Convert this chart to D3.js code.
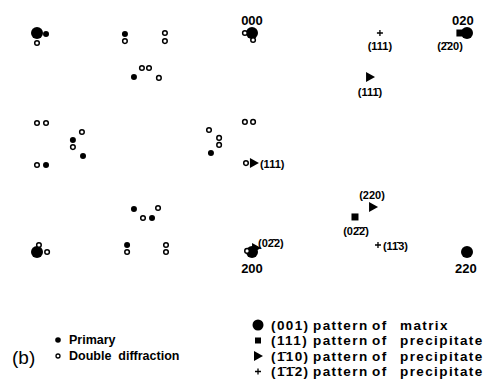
<!DOCTYPE html>
<html>
<head>
<meta charset="utf-8">
<script src="https://cdn.jsdelivr.net/npm/d3@7"></script>
<style>
  body { margin: 0; background: #fff; }
  svg { display: block; }
  text { font-family: "Liberation Sans", Arial, sans-serif; fill: #000; }
</style>
</head>
<body>
<div id="chart"></div>
<script>
// Spot positions in lattice units: u along 000 -> 020, v along 000 -> 200
var matrixSpots = [[-1, 0], [0, 0], [1, 0], [-1, 1], [0, 1], [1, 1]];

var primarySpots = [
    [-0.958, 0.005], [-0.591, 0.005], [-0.549, 0.201], [-0.833, 0.489],
    [-0.786, 0.562], [-0.958, 0.603], [-0.191, 0.548], [-0.549, 0.804],
    [-0.465, 0.845], [-0.581, 0.968]
];

var doubleSpots = [
    [-1, 0.046], [-0.405, 0], [-0.405, 0.037], [-0.591, 0.037],
    [-0.512, 0.160], [-0.479, 0.160], [-0.433, 0.205], [-0.033, 0],
    [0.005, 0.032], [-0.033, 0.406], [0.005, 0.406], [-1, 0.411],
    [-0.958, 0.411], [-0.791, 0.452], [-0.833, 0.521], [-1, 0.603],
    [-0.200, 0.443], [-0.153, 0.479], [-0.153, 0.511], [-0.028, 0.594],
    [-0.437, 0.799], [-0.507, 0.845], [-0.991, 0.968], [-0.953, 1.0],
    [-0.581, 1.0], [-0.400, 0.968], [-0.400, 1.0], [-0.023, 0.995]
];

var squareSpots = [[0.967, 0], [0.479, 0.840]];
var triangleSpots = [[0.549, 0.201], [0.009, 0.594], [0.563, 0.795], [0.019, 0.982]];
var plusSpots = [[0.595, 0], [0.586, 0.968]];

// spot labels ("-" in front of a digit means a bar over it)
var spotLabels = ["000", "020", "200", "220", "(111)", "(-220)", "(11-1)",
                  "(111)", "(0-22)", "(220)", "(0-2-2)", "(1-13)"];
var spotLabelAt = [[0, -0.037], [0.981, -0.037], [0, 1.096], [0.995, 1.096],
                   [0.595, 0.078], [0.921, 0.078], [0.549, 0.288],
                   [0.037, 0.616], [0.028, 0.977], [0.558, 0.758],
                   [0.484, 0.922], [0.609, 0.991]];
var spotLabelAnchor = ["middle", "middle", "middle", "middle", "middle", "middle",
                       "middle", "start", "start", "middle", "middle", "start"];
var bigLabels = ["000", "020", "200", "220"];

var legendLeft = ["Primary", "Double  diffraction"];
var legendRight = [
    ["(001)", "pattern", "of", "matrix"],
    ["(111)", "pattern", "of", "precipitate"],
    ["(-110)", "pattern", "of", "precipitate"],
    ["(-1-12)", "pattern", "of", "precipitate"]
];

var width = 492, height = 391;

var x = d3.scaleLinear().domain([-1, 1]).range([37, 467]);
var y = d3.scaleLinear().domain([0, 1]).range([33, 252]);

var svg = d3.select("#chart").append("svg")
    .attr("width", width)
    .attr("height", height);

//turn "-1" into 1 with a bar over it
function barred(s) {
    return s.replace(/-(\d)/g, "$1\u0304");
}

//Spots
var spots = svg.append("g").attr("class", "spots");

spots.selectAll(".matrix")
    .data(matrixSpots)
    .enter().append("circle")
    .attr("class", "matrix")
    .attr("cx", function(d) { return x(d[0]); })
    .attr("cy", function(d) { return y(d[1]); })
    .attr("r", 6);

spots.selectAll(".primary")
    .data(primarySpots)
    .enter().append("circle")
    .attr("class", "primary")
    .attr("cx", function(d) { return x(d[0]); })
    .attr("cy", function(d) { return y(d[1]); })
    .attr("r", 3);

spots.selectAll(".double")
    .data(doubleSpots)
    .enter().append("circle")
    .attr("class", "double")
    .attr("cx", function(d) { return x(d[0]); })
    .attr("cy", function(d) { return y(d[1]); })
    .attr("r", 2.3)
    .style("fill", "#fff")
    .style("stroke", "#000")
    .style("stroke-width", 1.5);

spots.selectAll(".square")
    .data(squareSpots)
    .enter().append("rect")
    .attr("class", "square")
    .attr("x", function(d) { return x(d[0]) - 3.5; })
    .attr("y", function(d) { return y(d[1]) - 3.5; })
    .attr("width", 7)
    .attr("height", 7);

var triangle = "M-4,-5L5,0L-4,5Z";
spots.selectAll(".triangle")
    .data(triangleSpots)
    .enter().append("path")
    .attr("class", "triangle")
    .attr("transform", function(d) { return "translate(" + x(d[0]) + "," + y(d[1]) + ")"; })
    .attr("d", triangle);

spots.selectAll(".plus")
    .data(plusSpots)
    .enter().append("path")
    .attr("class", "plus")
    .attr("transform", function(d) { return "translate(" + x(d[0]) + "," + y(d[1]) + ")"; })
    .attr("d", "M-3,0H3M0,-3V3")
    .style("stroke", "#000")
    .style("stroke-width", 1.3);

//Labels
svg.append("g").attr("class", "labels")
    .selectAll("text")
    .data(spotLabels)
    .enter().append("text")
    .attr("x", function(d, i) { return x(spotLabelAt[i][0]); })
    .attr("y", function(d, i) { return y(spotLabelAt[i][1]); })
    .attr("text-anchor", function(d, i) { return spotLabelAnchor[i]; })
    .style("font-weight", "bold")
    .style("font-size", function(d) { return bigLabels.indexOf(d) >= 0 ? "13px" : "11px"; })
    .text(function(d) { return barred(d); });

//Left legend
var left = svg.append("g").attr("class", "legend-left");
left.selectAll("circle")
    .data(legendLeft)
    .enter().append("circle")
    .attr("cx", 58)
    .attr("cy", function(d, i) { return 340 + i * 16; })
    .attr("r", function(d, i) { return i == 0 ? 2.8 : 2; })
    .style("fill", function(d, i) { return i == 0 ? "#000" : "#fff"; })
    .style("stroke", "#000")
    .style("stroke-width", function(d, i) { return i == 0 ? 0 : 1.3; });

left.selectAll("text")
    .data(legendLeft)
    .enter().append("text")
    .attr("x", 69)
    .attr("y", function(d, i) { return 340 + i * 16; })
    .attr("dy", "0.35em")
    .style("font-weight", "bold")
    .style("font-size", "12.5px")
    .style("white-space", "pre")
    .text(function(d) { return d; });

svg.append("text")
    .attr("x", 12)
    .attr("y", 357)
    .attr("dy", "0.35em")
    .style("font-size", "19px")
    .text("(b)");

//Right legend
var rowY = function(i) { return 325 + i * 15.5; };
var right = svg.append("g").attr("class", "legend-right");
var markerX = 258;

right.append("circle").attr("cx", markerX).attr("cy", rowY(0)).attr("r", 5.5);
right.append("rect").attr("x", markerX - 3).attr("y", rowY(1) - 3).attr("width", 6).attr("height", 6);
right.append("path").attr("transform", "translate(" + markerX + "," + rowY(2) + ")").attr("d", triangle);
right.append("path").attr("transform", "translate(" + markerX + "," + rowY(3) + ")")
    .attr("d", "M-3,0H3M0,-3V3")
    .style("stroke", "#000")
    .style("stroke-width", 1.3);

var cols = [271, 313, 372, 400];
var rows = right.selectAll(".row")
    .data(legendRight)
    .enter().append("text")
    .attr("class", "row")
    .attr("y", function(d, i) { return rowY(i); })
    .attr("dy", "0.35em")
    .style("font-weight", "bold")
    .style("font-size", "13.5px")
    .style("letter-spacing", "1.4px");

rows.selectAll("tspan")
    .data(function(d) { return d; })
    .enter().append("tspan")
    .attr("x", function(d, j) { return cols[j]; })
    .text(function(d) { return barred(d); });
</script>
</body>
</html>
